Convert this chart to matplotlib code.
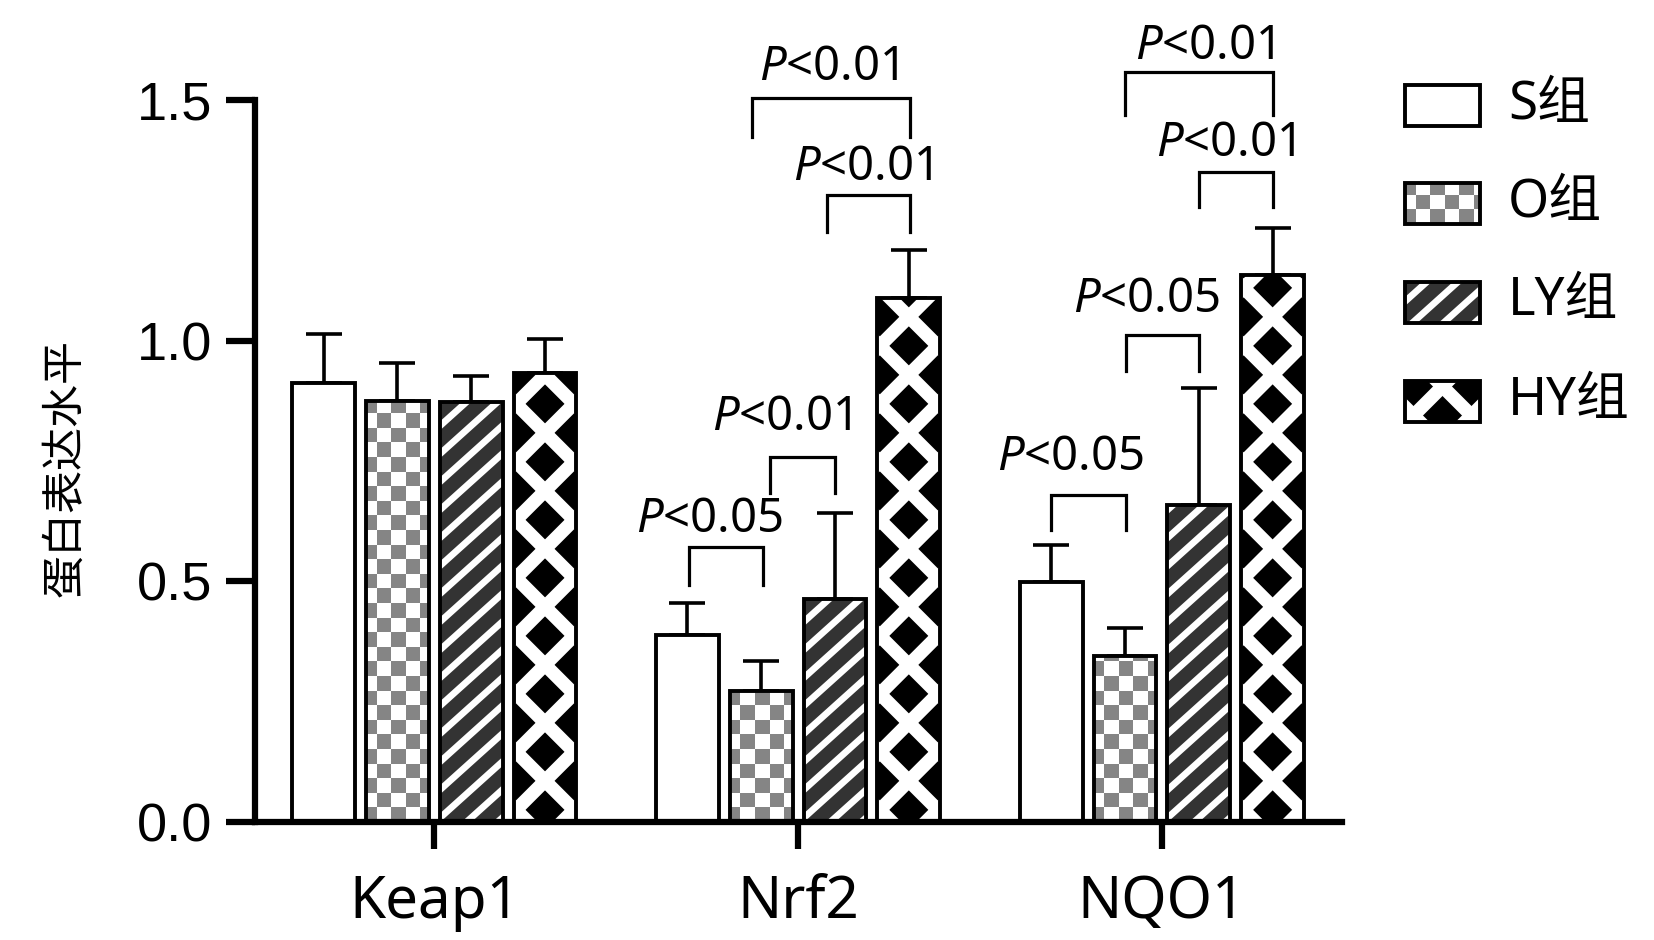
import numpy as np
import matplotlib
matplotlib.use('Agg')
import matplotlib.pyplot as plt
from matplotlib.patches import Rectangle
from matplotlib.collections import PolyCollection
from matplotlib.transforms import IdentityTransform

# ---- data ----
genes = ['Keap1', 'Nrf2', 'NQO1']
groups = ['S组', 'O组', 'LY组', 'HY组']
s_mean = [0.913, 0.389, 0.498]
s_err = [0.101, 0.067, 0.078]
o_mean = [0.875, 0.273, 0.344]
o_err = [0.078, 0.061, 0.060]
ly_mean = [0.873, 0.463, 0.659]
ly_err = [0.053, 0.179, 0.242]
hy_mean = [0.933, 1.088, 1.137]
hy_err = [0.071, 0.100, 0.097]
y_ticks = [0.0, 0.5, 1.0, 1.5]

# significance labels
sig_text = ['P<0.05', 'P<0.01', 'P<0.01', 'P<0.01',
            'P<0.05', 'P<0.05', 'P<0.01', 'P<0.01']

# bracket layout: x left, x right, y top, y bottom, text x, text baseline
brackets = [
    (3.45, 4.46, 0.571, 0.492, 3.73, 0.603),
    (4.55, 5.43, 0.758, 0.683, 4.71, 0.814),
    (5.32, 6.44, 1.303, 1.226, 5.81, 1.334),
    (4.30, 6.45, 1.504, 1.423, 5.34, 1.542),
    (8.35, 9.37, 0.679, 0.607, 8.62, 0.731),
    (9.37, 10.36, 1.012, 0.937, 9.65, 1.060),
    (10.36, 11.36, 1.350, 1.278, 10.72, 1.384),
    (9.355, 11.36, 1.558, 1.469, 10.44, 1.585),
]

plt.rcParams['mathtext.fontset'] = 'custom'
plt.rcParams['mathtext.it'] = 'Noto Sans:italic'
plt.rcParams['mathtext.rm'] = 'Noto Sans'

W, H, DPI = 1654, 940, 100
fig = plt.figure(figsize=(W / DPI, H / DPI), dpi=DPI)
ax = fig.add_axes([255 / W, 1 - 822 / H, (1342 - 255) / W, (822 - 100) / H])

group_step = 4.93
centers = np.arange(len(genes)) * group_step
bar_w = 0.85
means = [s_mean, o_mean, ly_mean, hy_mean]
errs = [s_err, o_err, ly_err, hy_err]
face = ['white', 'white', '#333333', 'black']
kinds = ['plain', 'checker', 'stripes', 'diamonds']

ax.set_xlim(-2.43, 12.30)
ax.set_ylim(0, 1.5)


def box_px(patch):
    tr = patch.get_data_transform()
    x0, y0 = tr.transform((patch.get_x(), patch.get_y()))
    x1, y1 = tr.transform((patch.get_x() + patch.get_width(),
                           patch.get_y() + patch.get_height()))
    return x0, y0, x1, y1


def clip_to_box(poly, x0, y0, x1, y1):
    """Sutherland-Hodgman clip of a polygon against an axis-aligned box."""
    def cut(pts, inside, cross):
        out = []
        for i in range(len(pts)):
            cur, prev = pts[i], pts[i - 1]
            if inside(cur):
                if not inside(prev):
                    out.append(cross(prev, cur))
                out.append(cur)
            elif inside(prev):
                out.append(cross(prev, cur))
        return out

    def at_x(xv):
        return lambda p, q: (xv, p[1] + (q[1] - p[1]) * (xv - p[0]) / (q[0] - p[0]))

    def at_y(yv):
        return lambda p, q: (p[0] + (q[0] - p[0]) * (yv - p[1]) / (q[1] - p[1]), yv)

    pts = list(poly)
    pts = cut(pts, lambda p: p[0] >= x0, at_x(x0))
    if pts:
        pts = cut(pts, lambda p: p[0] <= x1, at_x(x1))
    if pts:
        pts = cut(pts, lambda p: p[1] >= y0, at_y(y0))
    if pts:
        pts = cut(pts, lambda p: p[1] <= y1, at_y(y1))
    return pts


def add_pattern(axis, patch, kind):
    """Fill a rectangle with a pattern drawn in pixel space."""
    if kind == 'plain':
        return
    x0, y0, x1, y1 = box_px(patch)
    polys = []
    color = 'white'
    if kind == 'checker':
        c = 14.6
        color = '#858585'
        ni = int(np.ceil((x1 - x0) / c)) + 2
        nj = int(np.ceil((y1 - y0) / c)) + 1
        for i in range(ni):
            for j in range(nj):
                if (i + j) % 2 == 0:
                    xa, ya = x0 + i * c - 4, y0 + j * c
                    polys.append([(xa, ya), (xa + c, ya), (xa + c, ya + c), (xa, ya + c)])
    elif kind == 'stripes':
        m = np.tan(np.radians(42))
        period, t = 28.0, 9.0
        b = y0 - m * (x1 - x0) - period
        while b < y1 + period:
            polys.append([(x0, b), (x1, b + m * (x1 - x0)),
                          (x1, b + m * (x1 - x0) + t), (x0, b + t)])
            b += period
    elif kind == 'diamonds':
        period, t = 58.0, 19.0
        xc = (x0 + x1) / 2
        span = (x1 - x0) / 2 + 5
        for sgn in (1, -1):
            b = y0 - span - period + 10
            while b < y1 + span + period:
                polys.append([(xc - span, b - sgn * span), (xc + span, b + sgn * span),
                              (xc + span, b + sgn * span + t), (xc - span, b - sgn * span + t)])
                b += period
    clipped = [clip_to_box(p, x0, y0, x1, y1) for p in polys]
    clipped = [p for p in clipped if len(p) >= 3]
    pc = PolyCollection(clipped, facecolors=color, edgecolors='none',
                        transform=IdentityTransform(), zorder=patch.get_zorder() + 0.1)
    axis.add_collection(pc, autolim=False)


for k in range(4):
    x = centers + (k - 1.5)
    ax.errorbar(x, means[k], yerr=[np.zeros(3), errs[k]], fmt='none',
                ecolor='black', elinewidth=2.6, capsize=13, capthick=2.6, zorder=1)
    bars = ax.bar(x, means[k], width=bar_w, color=face[k], edgecolor='none', zorder=2)
    for b in bars:
        add_pattern(ax, b, kinds[k])
    ax.bar(x, means[k], width=bar_w, fill=False, edgecolor='black', linewidth=2.8, zorder=3)

# axes styling
for side in ['top', 'right']:
    ax.spines[side].set_visible(False)
for side in ['left', 'bottom']:
    ax.spines[side].set_linewidth(4.5)
ax.set_yticks(y_ticks)
ax.set_yticklabels([f'{v:.1f}' for v in y_ticks], fontsize=39, family='Liberation Sans')
ax.set_xticks(centers)
ax.set_xticklabels(genes, fontsize=42, family='Noto Sans')
ax.tick_params(axis='y', length=21, width=4.5, pad=10)
ax.tick_params(axis='x', length=19.5, width=4.5, pad=17)

fig.text(65 / W, 1 - 468 / H, '蛋白表达水平', rotation=90, ha='center', va='center',
         fontsize=31, family=['Noto Sans CJK SC', 'DejaVu Sans'])

# significance brackets
for (xl, xr, yt, yb, tx, ty), lab in zip(brackets, sig_text):
    ax.plot([xl, xl, xr, xr], [yb, yt, yt, yb], color='black', lw=2.3,
            clip_on=False, solid_joinstyle='miter', zorder=4)
    ax.text(tx, ty, '$P$' + lab[1:], ha='center', va='baseline', fontsize=34,
            family='Noto Sans', clip_on=False)

# legend drawn in a pixel-space overlay axes
lax = fig.add_axes([0, 0, 1, 1], facecolor='none')
lax.set_xlim(0, W)
lax.set_ylim(0, H)
lax.axis('off')
row_y = [105, 203.5, 302, 401]
for k in range(4):
    yc = H - row_y[k]
    r = Rectangle((1405, yc - 20.5), 75, 41, facecolor=face[k], edgecolor='none', zorder=2)
    lax.add_patch(r)
    add_pattern(lax, r, kinds[k])
    lax.add_patch(Rectangle((1405, yc - 20.5), 75, 41, fill=False,
                            edgecolor='black', linewidth=2.8, zorder=3))
    lax.text(1508, yc, groups[k], ha='left', va='center', fontsize=38,
             family=['Noto Sans', 'Noto Sans CJK SC'])

fig.savefig('out.png', dpi=DPI)
